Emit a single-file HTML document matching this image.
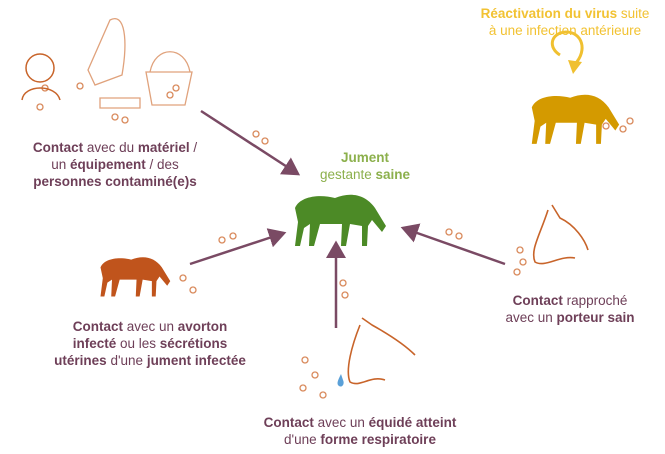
<!DOCTYPE html>
<html><head><meta charset="utf-8"><style>
body{margin:0;background:#fff;width:665px;height:454px;overflow:hidden;position:relative;font-family:"Liberation Sans",sans-serif}
.t{position:absolute;text-align:center;font-size:13.5px;line-height:17px;color:#6e3f58;white-space:nowrap}
.t b{font-weight:bold}
</style></head><body>
<svg width="665" height="454" style="position:absolute;left:0;top:0">
<defs><marker id="a" markerWidth="8" markerHeight="8" refX="6" refY="4" orient="auto"><path d="M0,0 L7,4 L0,8 Z" fill="#7a4a64"/></marker>
<symbol id="hz" viewBox="0 0 100 60"><path d="M5,20 C10,8 30,6 45,10 C60,4 75,6 85,20 L96,38 L92,44 L82,32 L78,38 L77,58 L72,58 L72,38 L60,36 L56,58 L51,58 L52,36 L30,36 L24,58 L19,58 L20,36 L14,40 L10,58 L5,58 L8,34 Z"/></symbol></defs>
<g stroke="#7a4a64" stroke-width="2.5" fill="none">
<line x1="201" y1="111" x2="298" y2="174" marker-end="url(#a)"/>
<line x1="190" y1="264" x2="284" y2="233" marker-end="url(#a)"/>
<line x1="336" y1="328" x2="336" y2="243" marker-end="url(#a)"/>
<line x1="505" y1="264" x2="403" y2="228" marker-end="url(#a)"/>
</g>
<g fill="none" stroke="#d98a5c" stroke-width="1.3">
<circle cx="256" cy="134" r="3"/><circle cx="265" cy="141" r="3"/>
<circle cx="222" cy="240" r="3"/><circle cx="233" cy="236" r="3"/>
<circle cx="449" cy="232" r="3"/><circle cx="459" cy="236" r="3"/>
<circle cx="343" cy="283" r="3"/><circle cx="345" cy="295" r="3"/>
<circle cx="45" cy="88" r="3"/><circle cx="40" cy="107" r="3"/><circle cx="80" cy="86" r="3"/><circle cx="115" cy="117" r="3"/><circle cx="125" cy="120" r="3"/><circle cx="170" cy="95" r="3"/><circle cx="176" cy="88" r="3"/>
<circle cx="606" cy="126" r="3"/><circle cx="623" cy="129" r="3"/><circle cx="630" cy="121" r="3"/>
<circle cx="520" cy="250" r="3"/><circle cx="523" cy="262" r="3"/><circle cx="517" cy="272" r="3"/>
<circle cx="305" cy="360" r="3"/><circle cx="315" cy="375" r="3"/><circle cx="303" cy="388" r="3"/><circle cx="323" cy="395" r="3"/>
<circle cx="193" cy="290" r="3"/><circle cx="183" cy="278" r="3"/>
</g>
<g fill="none" stroke="#c8642a" stroke-width="1.5">
<circle cx="40" cy="68" r="14"/><path d="M22,100 C24,84 56,84 60,100"/>
</g>
<g fill="none" stroke="#e0a27c" stroke-width="1.3">
<path d="M110,20 C125,12 128,40 122,75 L95,85 L88,70 Z"/>
<path d="M100,98 L140,98 L140,108 L100,108 Z"/>
<path d="M146,72 L192,72 L185,105 L152,105 Z"/><path d="M150,72 C155,45 185,45 190,72"/>
</g>
<use href="#hz" x="290" y="188" width="100" height="60" fill="#4c8a26"/>
<use href="#hz" x="527" y="88" width="96" height="58" fill="#d49a00"/>
<use href="#hz" x="95" y="252" width="80" height="46" fill="#c0541c"/>
<path d="M560,55 C548,48 550,33 566,32 C582,32 588,50 575,64" fill="none" stroke="#f0c030" stroke-width="3"/>
<path d="M568,60 L582,62 L573,74 Z" fill="#f0c030"/>
<g fill="none" stroke="#c8642a" stroke-width="1.6">
<path d="M552,205 L560,218 C575,225 585,240 588,250 M548,210 C540,235 530,250 535,262 C545,268 560,255 575,258"/>
<path d="M362,318 L372,325 C390,335 405,345 415,355 M360,325 C352,345 345,370 350,382 C360,388 370,375 385,380"/>
</g>
<path d="M341,374 C338,380 336,384 339,386 C342,388 345,384 343,380 Z" fill="#5aa0d8"/>
</svg>
<div class="t" style="left:10px;top:139px;width:210px"><b>Contact</b> avec du <b>matériel</b> /<br>un <b>équipement</b> / des<br><b>personnes contaminé(e)s</b></div>
<div class="t" style="left:315px;top:149px;width:100px;color:#8cb04c"><b>Jument</b><br>gestante <b>saine</b></div>
<div class="t" style="left:465px;top:5px;width:200px;color:#f2c232"><b>Réactivation du virus</b> suite<br>à une infection antérieure</div>
<div class="t" style="left:35px;top:318px;width:230px"><b>Contact</b> avec un <b>avorton</b><br><b>infecté</b> ou les <b>sécrétions</b><br><b>utérines</b> d'une <b>jument infectée</b></div>
<div class="t" style="left:485px;top:292px;width:170px"><b>Contact</b> rapproché<br>avec un <b>porteur sain</b></div>
<div class="t" style="left:230px;top:414px;width:260px"><b>Contact</b> avec un <b>équidé atteint</b><br>d'une <b>forme respiratoire</b></div>
</body></html>
